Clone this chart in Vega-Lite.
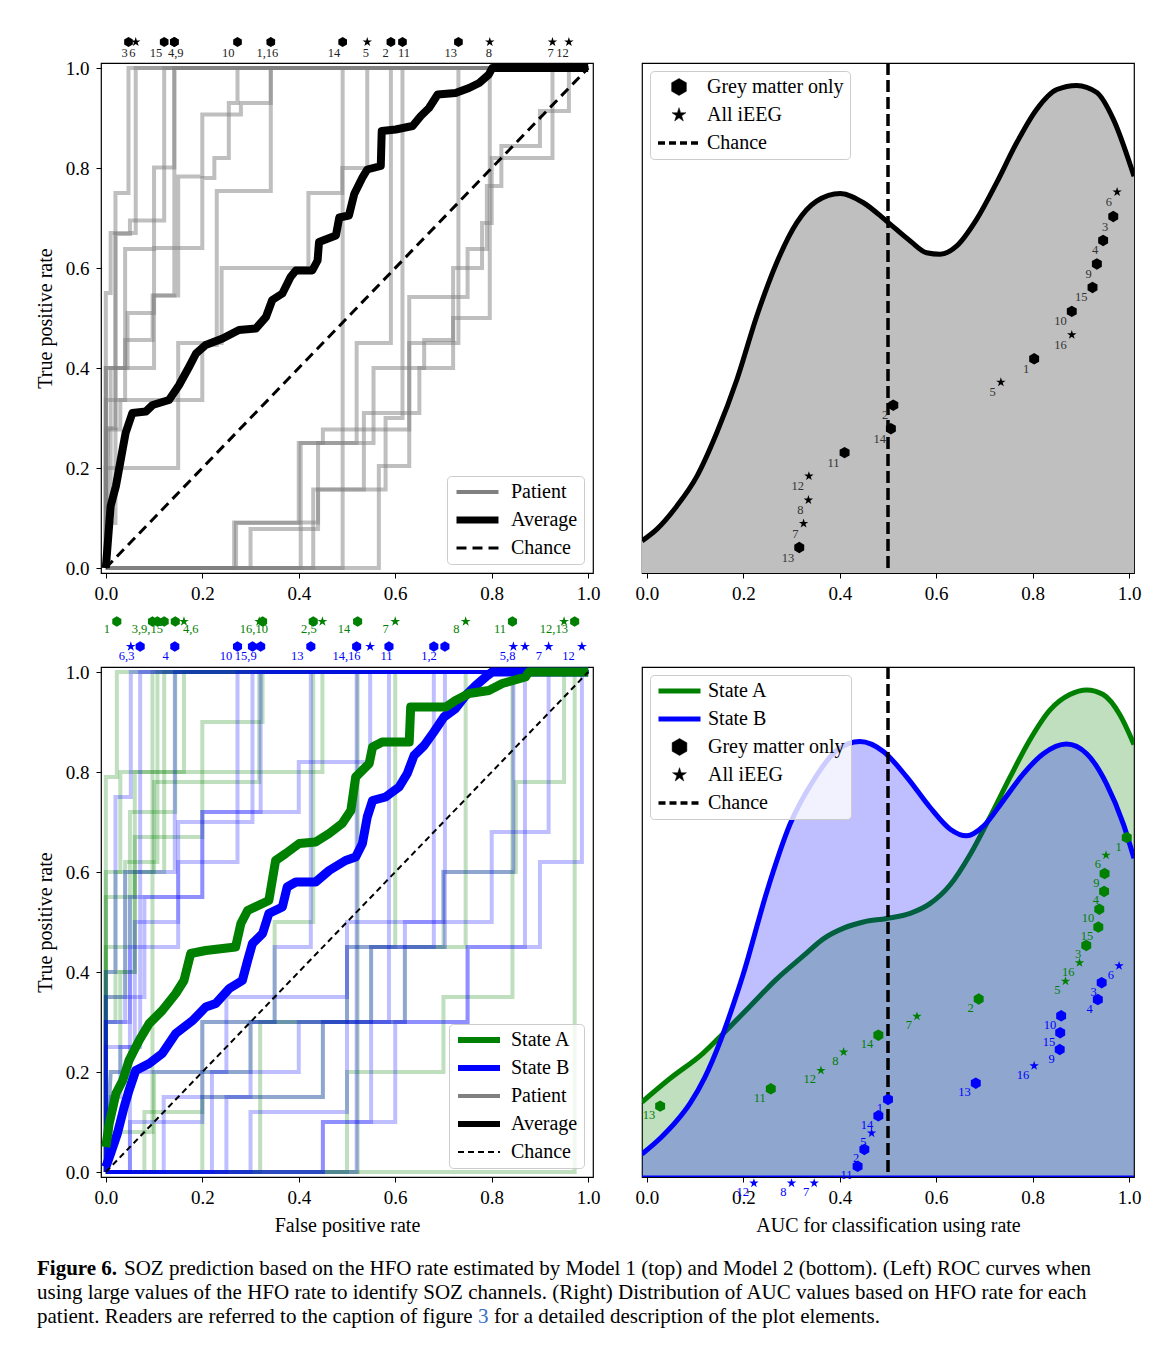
{
"$schema": "https://vega.github.io/schema/vega-lite/v6.json",
"background": "white",
"padding": {"left": 34, "top": 36, "right": 10, "bottom": 2},
"autosize": {"type": "pad"},
"bounds": "flush",
"align": "each",
"columns": 2,
"spacing": {"row": 94, "column": 49},
"resolve": {"scale": {"color": "independent", "shape": "independent", "fill": "independent", "stroke": "independent", "strokeWidth": "independent", "strokeDash": "independent"}, "legend": {"color": "independent", "shape": "independent", "fill": "independent", "stroke": "independent", "strokeWidth": "independent", "strokeDash": "independent"}},
"config": {
  "font": "Liberation Serif",
  "view": {"stroke": "black", "strokeWidth": 1.2},
  "axis": {"domain": false, "grid": false, "ticks": true, "tickColor": "black", "tickSize": 5, "tickWidth": 1, "labelFont": "Liberation Serif", "labelFontSize": 19, "labelColor": "black", "labelPadding": 6, "labelFlush": false, "titleFont": "Liberation Serif", "titleFontSize": 20, "titleFontWeight": "normal", "titleColor": "black", "titlePadding": 8},
  "axisY": {"labelPadding": 7, "titlePadding": 10},
  "legend": {"labelFont": "Liberation Serif", "labelFontSize": 20, "labelColor": "black", "fillColor": "rgba(255,255,255,0.8)", "strokeColor": "#cccccc", "cornerRadius": 4, "padding": 6, "symbolSize": 1764, "symbolOpacity": 1, "clipHeight": 20, "rowPadding": 8, "labelOffset": 8, "labelLimit": 300},
  "text": {"font": "Liberation Serif"}
},
"datasets": {
  "tlPat": [
    {"p":3,"x":0,"y":0},{"p":3,"x":0,"y":0.4},{"p":3,"x":0.02,"y":0.4},{"p":3,"x":0.02,"y":0.75},{"p":3,"x":0.047,"y":0.75},{"p":3,"x":0.047,"y":1},{"p":3,"x":1,"y":1},
    {"p":6,"x":0,"y":0},{"p":6,"x":0,"y":0.55},{"p":6,"x":0.01,"y":0.55},{"p":6,"x":0.01,"y":0.67},{"p":6,"x":0.062,"y":0.67},{"p":6,"x":0.062,"y":1},{"p":6,"x":1,"y":1},
    {"p":15,"x":0,"y":0},{"p":15,"x":0.005,"y":0.28},{"p":15,"x":0.02,"y":0.28},{"p":15,"x":0.02,"y":0.668},{"p":15,"x":0.05,"y":0.668},{"p":15,"x":0.05,"y":0.695},{"p":15,"x":0.121,"y":0.695},{"p":15,"x":0.121,"y":1},{"p":15,"x":1,"y":1},
    {"p":4,"x":0,"y":0},{"p":4,"x":0,"y":0.336},{"p":4,"x":0.04,"y":0.336},{"p":4,"x":0.04,"y":0.638},{"p":4,"x":0.1,"y":0.638},{"p":4,"x":0.1,"y":0.801},{"p":4,"x":0.142,"y":0.801},{"p":4,"x":0.142,"y":1},{"p":4,"x":1,"y":1},
    {"p":9,"x":0,"y":0},{"p":9,"x":0,"y":0.09},{"p":9,"x":0.01,"y":0.09},{"p":9,"x":0.01,"y":0.4},{"p":9,"x":0.04,"y":0.4},{"p":9,"x":0.04,"y":0.456},{"p":9,"x":0.097,"y":0.456},{"p":9,"x":0.097,"y":0.545},{"p":9,"x":0.142,"y":0.545},{"p":9,"x":0.142,"y":1},{"p":9,"x":1,"y":1},
    {"p":10,"x":0,"y":0},{"p":10,"x":0.005,"y":0.09},{"p":10,"x":0.02,"y":0.09},{"p":10,"x":0.02,"y":0.4},{"p":10,"x":0.045,"y":0.4},{"p":10,"x":0.045,"y":0.51},{"p":10,"x":0.1,"y":0.51},{"p":10,"x":0.1,"y":0.64},{"p":10,"x":0.2,"y":0.64},{"p":10,"x":0.2,"y":0.78},{"p":10,"x":0.225,"y":0.78},{"p":10,"x":0.225,"y":0.82},{"p":10,"x":0.255,"y":0.82},{"p":10,"x":0.255,"y":0.93},{"p":10,"x":0.273,"y":0.93},{"p":10,"x":0.273,"y":1},{"p":10,"x":1,"y":1},
    {"p":1,"x":0,"y":0},{"p":1,"x":0,"y":0.277},{"p":1,"x":0.03,"y":0.277},{"p":1,"x":0.03,"y":0.336},{"p":1,"x":0.2,"y":0.336},{"p":1,"x":0.2,"y":0.446},{"p":1,"x":0.23,"y":0.446},{"p":1,"x":0.23,"y":0.754},{"p":1,"x":0.342,"y":0.754},{"p":1,"x":0.342,"y":1},{"p":1,"x":1,"y":1},
    {"p":16,"x":0,"y":0},{"p":16,"x":0,"y":0.4},{"p":16,"x":0.1,"y":0.4},{"p":16,"x":0.1,"y":0.545},{"p":16,"x":0.15,"y":0.545},{"p":16,"x":0.15,"y":0.783},{"p":16,"x":0.2,"y":0.783},{"p":16,"x":0.2,"y":0.907},{"p":16,"x":0.28,"y":0.907},{"p":16,"x":0.28,"y":0.93},{"p":16,"x":0.342,"y":0.93},{"p":16,"x":0.342,"y":1},{"p":16,"x":1,"y":1},
    {"p":14,"x":0,"y":0},{"p":14,"x":0.491,"y":0},{"p":14,"x":0.491,"y":1},{"p":14,"x":1,"y":1},
    {"p":5,"x":0,"y":0},{"p":5,"x":0,"y":0.2},{"p":5,"x":0.15,"y":0.2},{"p":5,"x":0.15,"y":0.45},{"p":5,"x":0.24,"y":0.45},{"p":5,"x":0.24,"y":0.6},{"p":5,"x":0.42,"y":0.6},{"p":5,"x":0.42,"y":0.75},{"p":5,"x":0.49,"y":0.75},{"p":5,"x":0.49,"y":0.8},{"p":5,"x":0.542,"y":0.8},{"p":5,"x":0.542,"y":1},{"p":5,"x":1,"y":1},
    {"p":2,"x":0,"y":0},{"p":2,"x":0.27,"y":0},{"p":2,"x":0.27,"y":0.09},{"p":2,"x":0.4,"y":0.09},{"p":2,"x":0.4,"y":0.25},{"p":2,"x":0.52,"y":0.25},{"p":2,"x":0.52,"y":0.45},{"p":2,"x":0.591,"y":0.45},{"p":2,"x":0.591,"y":1},{"p":2,"x":1,"y":1},
    {"p":11,"x":0,"y":0},{"p":11,"x":0.43,"y":0},{"p":11,"x":0.43,"y":0.157},{"p":11,"x":0.58,"y":0.157},{"p":11,"x":0.58,"y":0.3},{"p":11,"x":0.615,"y":0.3},{"p":11,"x":0.615,"y":1},{"p":11,"x":1,"y":1},
    {"p":13,"x":0,"y":0},{"p":13,"x":0.566,"y":0},{"p":13,"x":0.566,"y":0.204},{"p":13,"x":0.629,"y":0.204},{"p":13,"x":0.629,"y":0.45},{"p":13,"x":0.731,"y":0.45},{"p":13,"x":0.731,"y":1},{"p":13,"x":1,"y":1},
    {"p":8,"x":0,"y":0},{"p":8,"x":0.3,"y":0},{"p":8,"x":0.3,"y":0.078},{"p":8,"x":0.44,"y":0.078},{"p":8,"x":0.44,"y":0.157},{"p":8,"x":0.535,"y":0.157},{"p":8,"x":0.535,"y":0.31},{"p":8,"x":0.65,"y":0.31},{"p":8,"x":0.65,"y":0.4},{"p":8,"x":0.72,"y":0.4},{"p":8,"x":0.72,"y":0.5},{"p":8,"x":0.796,"y":0.5},{"p":8,"x":0.796,"y":1},{"p":8,"x":1,"y":1},
    {"p":7,"x":0,"y":0},{"p":7,"x":0.266,"y":0},{"p":7,"x":0.266,"y":0.091},{"p":7,"x":0.44,"y":0.091},{"p":7,"x":0.44,"y":0.25},{"p":7,"x":0.555,"y":0.25},{"p":7,"x":0.555,"y":0.4},{"p":7,"x":0.66,"y":0.4},{"p":7,"x":0.66,"y":0.456},{"p":7,"x":0.72,"y":0.456},{"p":7,"x":0.72,"y":0.6},{"p":7,"x":0.78,"y":0.6},{"p":7,"x":0.78,"y":0.69},{"p":7,"x":0.8,"y":0.69},{"p":7,"x":0.8,"y":0.82},{"p":7,"x":0.926,"y":0.82},{"p":7,"x":0.926,"y":1},{"p":7,"x":1,"y":1},
    {"p":12,"x":0,"y":0},{"p":12,"x":0.404,"y":0},{"p":12,"x":0.404,"y":0.25},{"p":12,"x":0.45,"y":0.25},{"p":12,"x":0.45,"y":0.277},{"p":12,"x":0.629,"y":0.277},{"p":12,"x":0.629,"y":0.542},{"p":12,"x":0.75,"y":0.542},{"p":12,"x":0.75,"y":0.638},{"p":12,"x":0.79,"y":0.638},{"p":12,"x":0.79,"y":0.764},{"p":12,"x":0.82,"y":0.764},{"p":12,"x":0.82,"y":0.844},{"p":12,"x":0.9,"y":0.844},{"p":12,"x":0.9,"y":0.914},{"p":12,"x":0.96,"y":0.914},{"p":12,"x":0.96,"y":1},{"p":12,"x":1,"y":1}
  ],
  "tlAvg": [
    {"x":0,"y":0},{"x":0.01,"y":0.124},{"x":0.021,"y":0.164},{"x":0.031,"y":0.217},{"x":0.041,"y":0.27},{"x":0.055,"y":0.31},{"x":0.083,"y":0.313},{"x":0.097,"y":0.326},{"x":0.131,"y":0.336},{"x":0.152,"y":0.366},{"x":0.173,"y":0.403},{"x":0.187,"y":0.429},{"x":0.207,"y":0.446},{"x":0.242,"y":0.459},{"x":0.276,"y":0.476},{"x":0.311,"y":0.479},{"x":0.332,"y":0.502},{"x":0.345,"y":0.536},{"x":0.366,"y":0.549},{"x":0.383,"y":0.582},{"x":0.394,"y":0.595},{"x":0.428,"y":0.595},{"x":0.439,"y":0.615},{"x":0.442,"y":0.652},{"x":0.477,"y":0.665},{"x":0.484,"y":0.701},{"x":0.504,"y":0.705},{"x":0.515,"y":0.748},{"x":0.532,"y":0.781},{"x":0.542,"y":0.797},{"x":0.57,"y":0.804},{"x":0.572,"y":0.874},{"x":0.601,"y":0.877},{"x":0.636,"y":0.884},{"x":0.653,"y":0.904},{"x":0.67,"y":0.92},{"x":0.688,"y":0.947},{"x":0.725,"y":0.95},{"x":0.753,"y":0.96},{"x":0.774,"y":0.97},{"x":0.794,"y":0.987},{"x":0.801,"y":1},{"x":1,"y":1}
  ],
  "diag": [{"x":0,"y":0},{"x":1,"y":1}],
  "tlMark": [
    {"x":0.062,"y":1.052,"type":"All iEEG"},{"x":0.342,"y":1.052,"type":"All iEEG"},{"x":0.542,"y":1.052,"type":"All iEEG"},{"x":0.796,"y":1.052,"type":"All iEEG"},{"x":0.926,"y":1.052,"type":"All iEEG"},{"x":0.96,"y":1.052,"type":"All iEEG"},
    {"x":0.047,"y":1.052,"type":"Grey matter only"},{"x":0.121,"y":1.052,"type":"Grey matter only"},{"x":0.142,"y":1.052,"type":"Grey matter only"},{"x":0.142,"y":1.052,"type":"Grey matter only"},{"x":0.273,"y":1.052,"type":"Grey matter only"},{"x":0.342,"y":1.052,"type":"Grey matter only"},{"x":0.491,"y":1.052,"type":"Grey matter only"},{"x":0.591,"y":1.052,"type":"Grey matter only"},{"x":0.615,"y":1.052,"type":"Grey matter only"},{"x":0.731,"y":1.052,"type":"Grey matter only"}
  ],
  "tlLab": [
    {"t":"3","x":0.039,"y":1.031},{"t":"6","x":0.055,"y":1.031},{"t":"15","x":0.104,"y":1.031},{"t":"4,9","x":0.145,"y":1.031},{"t":"10","x":0.254,"y":1.031},{"t":"1,16","x":0.335,"y":1.031},{"t":"14","x":0.473,"y":1.031},{"t":"5","x":0.539,"y":1.031},{"t":"2","x":0.58,"y":1.031},{"t":"11","x":0.618,"y":1.031},{"t":"13","x":0.715,"y":1.031},{"t":"8","x":0.794,"y":1.031},{"t":"7","x":0.922,"y":1.031},{"t":"12","x":0.947,"y":1.031}
  ],
  "trKde": [
    {"x":-0.01,"y":0.063},{"x":0.021,"y":0.086},{"x":0.062,"y":0.131},{"x":0.104,"y":0.19},{"x":0.145,"y":0.275},{"x":0.187,"y":0.38},{"x":0.228,"y":0.504},{"x":0.269,"y":0.608},{"x":0.311,"y":0.687},{"x":0.352,"y":0.729},{"x":0.401,"y":0.744},{"x":0.449,"y":0.726},{"x":0.497,"y":0.69},{"x":0.546,"y":0.651},{"x":0.58,"y":0.628},{"x":0.608,"y":0.625},{"x":0.642,"y":0.641},{"x":0.684,"y":0.694},{"x":0.725,"y":0.765},{"x":0.767,"y":0.844},{"x":0.808,"y":0.909},{"x":0.85,"y":0.948},{"x":0.891,"y":0.956},{"x":0.933,"y":0.942},{"x":0.967,"y":0.89},{"x":1.01,"y":0.778}
  ],
  "trPts": [
    {"p":"6","x":0.975,"y":0.747,"type":"All iEEG"},{"p":"3","x":0.967,"y":0.699,"type":"Grey matter only"},{"p":"4","x":0.946,"y":0.652,"type":"Grey matter only"},{"p":"9","x":0.933,"y":0.606,"type":"Grey matter only"},{"p":"15","x":0.924,"y":0.56,"type":"Grey matter only"},{"p":"10","x":0.881,"y":0.513,"type":"Grey matter only"},{"p":"16","x":0.881,"y":0.467,"type":"All iEEG"},{"p":"1","x":0.803,"y":0.42,"type":"Grey matter only"},{"p":"5","x":0.734,"y":0.374,"type":"All iEEG"},{"p":"2","x":0.511,"y":0.329,"type":"Grey matter only"},{"p":"14","x":0.506,"y":0.283,"type":"Grey matter only"},{"p":"11","x":0.41,"y":0.236,"type":"Grey matter only"},{"p":"12","x":0.336,"y":0.19,"type":"All iEEG"},{"p":"8","x":0.335,"y":0.143,"type":"All iEEG"},{"p":"7","x":0.325,"y":0.097,"type":"All iEEG"},{"p":"13","x":0.316,"y":0.05,"type":"Grey matter only"}
  ],
  "trLeg": [{"cat":"Grey matter only","x":0.5,"y":0.5},{"cat":"All iEEG","x":0.5,"y":0.5},{"cat":"Chance","x":0.5,"y":0.5}],
  "brLeg": [{"cat":"State A","x":0.5,"y":0.5},{"cat":"State B","x":0.5,"y":0.5},{"cat":"Grey matter only","x":0.5,"y":0.5},{"cat":"All iEEG","x":0.5,"y":0.5},{"cat":"Chance","x":0.5,"y":0.5}],
  "blPat": [
    {"p":1,"s":"State A","x":0,"y":0},{"p":1,"s":"State A","x":0,"y":0.79},{"p":1,"s":"State A","x":0.0228,"y":0.79},{"p":1,"s":"State A","x":0.0228,"y":1},{"p":1,"s":"State A","x":1,"y":1},
    {"p":3,"s":"State A","x":0,"y":0},{"p":3,"s":"State A","x":0,"y":0.08},{"p":3,"s":"State A","x":0.0967,"y":0.08},{"p":3,"s":"State A","x":0.0967,"y":1},{"p":3,"s":"State A","x":1,"y":1},
    {"p":9,"s":"State A","x":0,"y":0},{"p":9,"s":"State A","x":0,"y":0.35},{"p":9,"s":"State A","x":0.04,"y":0.35},{"p":9,"s":"State A","x":0.04,"y":0.62},{"p":9,"s":"State A","x":0.107,"y":0.62},{"p":9,"s":"State A","x":0.107,"y":1},{"p":9,"s":"State A","x":1,"y":1},
    {"p":15,"s":"State A","x":0,"y":0},{"p":15,"s":"State A","x":0.01,"y":0.2},{"p":15,"s":"State A","x":0.03,"y":0.2},{"p":15,"s":"State A","x":0.03,"y":0.4},{"p":15,"s":"State A","x":0.06,"y":0.4},{"p":15,"s":"State A","x":0.06,"y":0.6},{"p":15,"s":"State A","x":0.121,"y":0.6},{"p":15,"s":"State A","x":0.121,"y":1},{"p":15,"s":"State A","x":1,"y":1},
    {"p":4,"s":"State A","x":0,"y":0},{"p":4,"s":"State A","x":0,"y":0.45},{"p":4,"s":"State A","x":0.05,"y":0.45},{"p":4,"s":"State A","x":0.05,"y":0.72},{"p":4,"s":"State A","x":0.144,"y":0.72},{"p":4,"s":"State A","x":0.144,"y":1},{"p":4,"s":"State A","x":1,"y":1},
    {"p":6,"s":"State A","x":0,"y":0},{"p":6,"s":"State A","x":0,"y":0.55},{"p":6,"s":"State A","x":0.06,"y":0.55},{"p":6,"s":"State A","x":0.06,"y":0.8},{"p":6,"s":"State A","x":0.162,"y":0.8},{"p":6,"s":"State A","x":0.162,"y":1},{"p":6,"s":"State A","x":1,"y":1},
    {"p":16,"s":"State A","x":0,"y":0},{"p":16,"s":"State A","x":0,"y":0.3},{"p":16,"s":"State A","x":0.02,"y":0.3},{"p":16,"s":"State A","x":0.02,"y":0.6},{"p":16,"s":"State A","x":0.1,"y":0.6},{"p":16,"s":"State A","x":0.1,"y":0.78},{"p":16,"s":"State A","x":0.318,"y":0.78},{"p":16,"s":"State A","x":0.318,"y":1},{"p":16,"s":"State A","x":1,"y":1},
    {"p":10,"s":"State A","x":0,"y":0},{"p":10,"s":"State A","x":0,"y":0.6},{"p":10,"s":"State A","x":0.03,"y":0.6},{"p":10,"s":"State A","x":0.03,"y":0.8},{"p":10,"s":"State A","x":0.2,"y":0.8},{"p":10,"s":"State A","x":0.2,"y":0.9},{"p":10,"s":"State A","x":0.325,"y":0.9},{"p":10,"s":"State A","x":0.325,"y":1},{"p":10,"s":"State A","x":1,"y":1},
    {"p":2,"s":"State A","x":0,"y":0},{"p":2,"s":"State A","x":0.08,"y":0},{"p":2,"s":"State A","x":0.08,"y":0.12},{"p":2,"s":"State A","x":0.2,"y":0.12},{"p":2,"s":"State A","x":0.2,"y":0.3},{"p":2,"s":"State A","x":0.35,"y":0.3},{"p":2,"s":"State A","x":0.35,"y":0.5},{"p":2,"s":"State A","x":0.43,"y":0.5},{"p":2,"s":"State A","x":0.43,"y":1},{"p":2,"s":"State A","x":1,"y":1},
    {"p":5,"s":"State A","x":0,"y":0},{"p":5,"s":"State A","x":0,"y":0.4},{"p":5,"s":"State A","x":0.06,"y":0.4},{"p":5,"s":"State A","x":0.06,"y":0.67},{"p":5,"s":"State A","x":0.2,"y":0.67},{"p":5,"s":"State A","x":0.2,"y":0.8},{"p":5,"s":"State A","x":0.449,"y":0.8},{"p":5,"s":"State A","x":0.449,"y":1},{"p":5,"s":"State A","x":1,"y":1},
    {"p":14,"s":"State A","x":0,"y":0},{"p":14,"s":"State A","x":0.522,"y":0},{"p":14,"s":"State A","x":0.522,"y":1},{"p":14,"s":"State A","x":1,"y":1},
    {"p":7,"s":"State A","x":0,"y":0},{"p":7,"s":"State A","x":0.1,"y":0},{"p":7,"s":"State A","x":0.1,"y":0.2},{"p":7,"s":"State A","x":0.3,"y":0.2},{"p":7,"s":"State A","x":0.3,"y":0.3},{"p":7,"s":"State A","x":0.5,"y":0.3},{"p":7,"s":"State A","x":0.5,"y":0.45},{"p":7,"s":"State A","x":0.6,"y":0.45},{"p":7,"s":"State A","x":0.6,"y":1},{"p":7,"s":"State A","x":1,"y":1},
    {"p":8,"s":"State A","x":0,"y":0},{"p":8,"s":"State A","x":0.2,"y":0},{"p":8,"s":"State A","x":0.2,"y":0.15},{"p":8,"s":"State A","x":0.45,"y":0.15},{"p":8,"s":"State A","x":0.45,"y":0.3},{"p":8,"s":"State A","x":0.62,"y":0.3},{"p":8,"s":"State A","x":0.62,"y":0.45},{"p":8,"s":"State A","x":0.746,"y":0.45},{"p":8,"s":"State A","x":0.746,"y":1},{"p":8,"s":"State A","x":1,"y":1},
    {"p":11,"s":"State A","x":0,"y":0},{"p":11,"s":"State A","x":0.5,"y":0},{"p":11,"s":"State A","x":0.5,"y":0.2},{"p":11,"s":"State A","x":0.7,"y":0.2},{"p":11,"s":"State A","x":0.7,"y":0.35},{"p":11,"s":"State A","x":0.843,"y":0.35},{"p":11,"s":"State A","x":0.843,"y":1},{"p":11,"s":"State A","x":1,"y":1},
    {"p":12,"s":"State A","x":0,"y":0},{"p":12,"s":"State A","x":0.32,"y":0},{"p":12,"s":"State A","x":0.32,"y":0.3},{"p":12,"s":"State A","x":0.55,"y":0.3},{"p":12,"s":"State A","x":0.55,"y":0.45},{"p":12,"s":"State A","x":0.7,"y":0.45},{"p":12,"s":"State A","x":0.7,"y":0.6},{"p":12,"s":"State A","x":0.85,"y":0.6},{"p":12,"s":"State A","x":0.85,"y":0.78},{"p":12,"s":"State A","x":0.95,"y":0.78},{"p":12,"s":"State A","x":0.95,"y":1},{"p":12,"s":"State A","x":1,"y":1},
    {"p":13,"s":"State A","x":0,"y":0},{"p":13,"s":"State A","x":0.972,"y":0},{"p":13,"s":"State A","x":0.972,"y":1},{"p":13,"s":"State A","x":1,"y":1},
    {"p":6,"s":"State B","x":0,"y":0},{"p":6,"s":"State B","x":0,"y":0.4},{"p":6,"s":"State B","x":0.02,"y":0.4},{"p":6,"s":"State B","x":0.02,"y":0.75},{"p":6,"s":"State B","x":0.0518,"y":0.75},{"p":6,"s":"State B","x":0.0518,"y":1},{"p":6,"s":"State B","x":1,"y":1},
    {"p":3,"s":"State B","x":0,"y":0},{"p":3,"s":"State B","x":0.01,"y":0.15},{"p":3,"s":"State B","x":0.03,"y":0.15},{"p":3,"s":"State B","x":0.03,"y":0.25},{"p":3,"s":"State B","x":0.0712,"y":0.25},{"p":3,"s":"State B","x":0.0712,"y":1},{"p":3,"s":"State B","x":1,"y":1},
    {"p":4,"s":"State B","x":0,"y":0},{"p":4,"s":"State B","x":0,"y":0.3},{"p":4,"s":"State B","x":0.04,"y":0.3},{"p":4,"s":"State B","x":0.04,"y":0.6},{"p":4,"s":"State B","x":0.143,"y":0.6},{"p":4,"s":"State B","x":0.143,"y":1},{"p":4,"s":"State B","x":1,"y":1},
    {"p":10,"s":"State B","x":0,"y":0},{"p":10,"s":"State B","x":0.01,"y":0.2},{"p":10,"s":"State B","x":0.05,"y":0.2},{"p":10,"s":"State B","x":0.05,"y":0.45},{"p":10,"s":"State B","x":0.15,"y":0.45},{"p":10,"s":"State B","x":0.15,"y":0.62},{"p":10,"s":"State B","x":0.273,"y":0.62},{"p":10,"s":"State B","x":0.273,"y":1},{"p":10,"s":"State B","x":1,"y":1},
    {"p":15,"s":"State B","x":0,"y":0},{"p":15,"s":"State B","x":0,"y":0.25},{"p":15,"s":"State B","x":0.06,"y":0.25},{"p":15,"s":"State B","x":0.06,"y":0.5},{"p":15,"s":"State B","x":0.15,"y":0.5},{"p":15,"s":"State B","x":0.15,"y":0.7},{"p":15,"s":"State B","x":0.304,"y":0.7},{"p":15,"s":"State B","x":0.304,"y":1},{"p":15,"s":"State B","x":1,"y":1},
    {"p":9,"s":"State B","x":0,"y":0},{"p":9,"s":"State B","x":0,"y":0.35},{"p":9,"s":"State B","x":0.08,"y":0.35},{"p":9,"s":"State B","x":0.08,"y":0.55},{"p":9,"s":"State B","x":0.2,"y":0.55},{"p":9,"s":"State B","x":0.2,"y":0.72},{"p":9,"s":"State B","x":0.321,"y":0.72},{"p":9,"s":"State B","x":0.321,"y":1},{"p":9,"s":"State B","x":1,"y":1},
    {"p":13,"s":"State B","x":0,"y":0},{"p":13,"s":"State B","x":0.05,"y":0},{"p":13,"s":"State B","x":0.05,"y":0.1},{"p":13,"s":"State B","x":0.2,"y":0.1},{"p":13,"s":"State B","x":0.2,"y":0.3},{"p":13,"s":"State B","x":0.35,"y":0.3},{"p":13,"s":"State B","x":0.35,"y":0.45},{"p":13,"s":"State B","x":0.425,"y":0.45},{"p":13,"s":"State B","x":0.425,"y":1},{"p":13,"s":"State B","x":1,"y":1},
    {"p":14,"s":"State B","x":0,"y":0},{"p":14,"s":"State B","x":0.52,"y":0},{"p":14,"s":"State B","x":0.52,"y":1},{"p":14,"s":"State B","x":1,"y":1},
    {"p":16,"s":"State B","x":0,"y":0},{"p":16,"s":"State B","x":0,"y":0.3},{"p":16,"s":"State B","x":0.05,"y":0.3},{"p":16,"s":"State B","x":0.05,"y":0.55},{"p":16,"s":"State B","x":0.2,"y":0.55},{"p":16,"s":"State B","x":0.2,"y":0.72},{"p":16,"s":"State B","x":0.4,"y":0.72},{"p":16,"s":"State B","x":0.4,"y":0.82},{"p":16,"s":"State B","x":0.548,"y":0.82},{"p":16,"s":"State B","x":0.548,"y":1},{"p":16,"s":"State B","x":1,"y":1},
    {"p":11,"s":"State B","x":0,"y":0},{"p":11,"s":"State B","x":0.45,"y":0},{"p":11,"s":"State B","x":0.45,"y":0.1},{"p":11,"s":"State B","x":0.55,"y":0.1},{"p":11,"s":"State B","x":0.55,"y":0.3},{"p":11,"s":"State B","x":0.587,"y":0.3},{"p":11,"s":"State B","x":0.587,"y":1},{"p":11,"s":"State B","x":1,"y":1},
    {"p":1,"s":"State B","x":0,"y":0},{"p":1,"s":"State B","x":0.12,"y":0},{"p":1,"s":"State B","x":0.12,"y":0.15},{"p":1,"s":"State B","x":0.3,"y":0.15},{"p":1,"s":"State B","x":0.3,"y":0.3},{"p":1,"s":"State B","x":0.5,"y":0.3},{"p":1,"s":"State B","x":0.5,"y":0.45},{"p":1,"s":"State B","x":0.68,"y":0.45},{"p":1,"s":"State B","x":0.68,"y":1},{"p":1,"s":"State B","x":1,"y":1},
    {"p":2,"s":"State B","x":0,"y":0},{"p":2,"s":"State B","x":0.22,"y":0},{"p":2,"s":"State B","x":0.22,"y":0.2},{"p":2,"s":"State B","x":0.4,"y":0.2},{"p":2,"s":"State B","x":0.4,"y":0.3},{"p":2,"s":"State B","x":0.55,"y":0.3},{"p":2,"s":"State B","x":0.55,"y":0.45},{"p":2,"s":"State B","x":0.703,"y":0.45},{"p":2,"s":"State B","x":0.703,"y":1},{"p":2,"s":"State B","x":1,"y":1},
    {"p":5,"s":"State B","x":0,"y":0},{"p":5,"s":"State B","x":0.05,"y":0},{"p":5,"s":"State B","x":0.05,"y":0.2},{"p":5,"s":"State B","x":0.25,"y":0.2},{"p":5,"s":"State B","x":0.25,"y":0.35},{"p":5,"s":"State B","x":0.5,"y":0.35},{"p":5,"s":"State B","x":0.5,"y":0.5},{"p":5,"s":"State B","x":0.7,"y":0.5},{"p":5,"s":"State B","x":0.7,"y":0.6},{"p":5,"s":"State B","x":0.845,"y":0.6},{"p":5,"s":"State B","x":0.845,"y":1},{"p":5,"s":"State B","x":1,"y":1},
    {"p":8,"s":"State B","x":0,"y":0},{"p":8,"s":"State B","x":0.3,"y":0},{"p":8,"s":"State B","x":0.3,"y":0.12},{"p":8,"s":"State B","x":0.5,"y":0.12},{"p":8,"s":"State B","x":0.5,"y":0.3},{"p":8,"s":"State B","x":0.75,"y":0.3},{"p":8,"s":"State B","x":0.75,"y":0.45},{"p":8,"s":"State B","x":0.869,"y":0.45},{"p":8,"s":"State B","x":0.869,"y":1},{"p":8,"s":"State B","x":1,"y":1},
    {"p":7,"s":"State B","x":0,"y":0},{"p":7,"s":"State B","x":0.25,"y":0},{"p":7,"s":"State B","x":0.25,"y":0.15},{"p":7,"s":"State B","x":0.45,"y":0.15},{"p":7,"s":"State B","x":0.45,"y":0.3},{"p":7,"s":"State B","x":0.62,"y":0.3},{"p":7,"s":"State B","x":0.62,"y":0.5},{"p":7,"s":"State B","x":0.8,"y":0.5},{"p":7,"s":"State B","x":0.8,"y":0.68},{"p":7,"s":"State B","x":0.918,"y":0.68},{"p":7,"s":"State B","x":0.918,"y":1},{"p":7,"s":"State B","x":1,"y":1},
    {"p":12,"s":"State B","x":0,"y":0},{"p":12,"s":"State B","x":0.45,"y":0},{"p":12,"s":"State B","x":0.45,"y":0.1},{"p":12,"s":"State B","x":0.6,"y":0.1},{"p":12,"s":"State B","x":0.6,"y":0.3},{"p":12,"s":"State B","x":0.75,"y":0.3},{"p":12,"s":"State B","x":0.75,"y":0.45},{"p":12,"s":"State B","x":0.9,"y":0.45},{"p":12,"s":"State B","x":0.9,"y":0.62},{"p":12,"s":"State B","x":0.987,"y":0.62},{"p":12,"s":"State B","x":0.987,"y":1},{"p":12,"s":"State B","x":1,"y":1}
  ],
  "blAvgA": [
    {"x":0,"y":0.05},{"x":0.007,"y":0.097},{"x":0.021,"y":0.157},{"x":0.035,"y":0.183},{"x":0.048,"y":0.223},{"x":0.069,"y":0.263},{"x":0.09,"y":0.297},{"x":0.117,"y":0.323},{"x":0.145,"y":0.357},{"x":0.162,"y":0.383},{"x":0.176,"y":0.437},{"x":0.207,"y":0.443},{"x":0.269,"y":0.45},{"x":0.28,"y":0.497},{"x":0.294,"y":0.523},{"x":0.338,"y":0.543},{"x":0.352,"y":0.623},{"x":0.373,"y":0.637},{"x":0.401,"y":0.657},{"x":0.435,"y":0.66},{"x":0.463,"y":0.677},{"x":0.49,"y":0.697},{"x":0.508,"y":0.723},{"x":0.518,"y":0.79},{"x":0.546,"y":0.817},{"x":0.553,"y":0.85},{"x":0.573,"y":0.86},{"x":0.629,"y":0.86},{"x":0.632,"y":0.93},{"x":0.705,"y":0.93},{"x":0.725,"y":0.943},{"x":0.753,"y":0.957},{"x":0.794,"y":0.963},{"x":0.822,"y":0.977},{"x":0.87,"y":0.99},{"x":0.877,"y":1},{"x":1,"y":1}
  ],
  "blAvgB": [
    {"x":0,"y":0.01},{"x":0.01,"y":0.037},{"x":0.024,"y":0.077},{"x":0.038,"y":0.13},{"x":0.048,"y":0.163},{"x":0.062,"y":0.203},{"x":0.09,"y":0.217},{"x":0.117,"y":0.237},{"x":0.145,"y":0.277},{"x":0.18,"y":0.303},{"x":0.207,"y":0.33},{"x":0.228,"y":0.337},{"x":0.256,"y":0.367},{"x":0.283,"y":0.383},{"x":0.294,"y":0.423},{"x":0.304,"y":0.457},{"x":0.325,"y":0.477},{"x":0.338,"y":0.517},{"x":0.366,"y":0.53},{"x":0.376,"y":0.57},{"x":0.394,"y":0.58},{"x":0.435,"y":0.58},{"x":0.463,"y":0.603},{"x":0.497,"y":0.623},{"x":0.518,"y":0.63},{"x":0.532,"y":0.657},{"x":0.542,"y":0.71},{"x":0.553,"y":0.743},{"x":0.58,"y":0.75},{"x":0.608,"y":0.77},{"x":0.625,"y":0.797},{"x":0.639,"y":0.833},{"x":0.66,"y":0.853},{"x":0.68,"y":0.88},{"x":0.701,"y":0.91},{"x":0.725,"y":0.927},{"x":0.746,"y":0.953},{"x":0.767,"y":0.973},{"x":0.791,"y":0.993},{"x":0.801,"y":1},{"x":1,"y":1}
  ],
  "blMark": [
    {"s":"State A","type":"Grey matter only","x":0.0228,"y":1.101},{"s":"State A","type":"Grey matter only","x":0.0967,"y":1.101},{"s":"State A","type":"Grey matter only","x":0.107,"y":1.101},{"s":"State A","type":"Grey matter only","x":0.121,"y":1.101},{"s":"State A","type":"Grey matter only","x":0.144,"y":1.101},{"s":"State A","type":"All iEEG","x":0.162,"y":1.101},{"s":"State A","type":"All iEEG","x":0.318,"y":1.101},{"s":"State A","type":"Grey matter only","x":0.325,"y":1.101},{"s":"State A","type":"Grey matter only","x":0.43,"y":1.101},{"s":"State A","type":"All iEEG","x":0.449,"y":1.101},{"s":"State A","type":"Grey matter only","x":0.522,"y":1.101},{"s":"State A","type":"All iEEG","x":0.6,"y":1.101},{"s":"State A","type":"All iEEG","x":0.746,"y":1.101},{"s":"State A","type":"Grey matter only","x":0.843,"y":1.101},{"s":"State A","type":"All iEEG","x":0.95,"y":1.101},{"s":"State A","type":"Grey matter only","x":0.972,"y":1.101},
    {"s":"State B","type":"All iEEG","x":0.0518,"y":1.051},{"s":"State B","type":"Grey matter only","x":0.0712,"y":1.051},{"s":"State B","type":"Grey matter only","x":0.143,"y":1.051},{"s":"State B","type":"Grey matter only","x":0.273,"y":1.051},{"s":"State B","type":"Grey matter only","x":0.304,"y":1.051},{"s":"State B","type":"Grey matter only","x":0.321,"y":1.051},{"s":"State B","type":"Grey matter only","x":0.425,"y":1.051},{"s":"State B","type":"Grey matter only","x":0.52,"y":1.051},{"s":"State B","type":"All iEEG","x":0.548,"y":1.051},{"s":"State B","type":"Grey matter only","x":0.587,"y":1.051},{"s":"State B","type":"Grey matter only","x":0.68,"y":1.051},{"s":"State B","type":"Grey matter only","x":0.703,"y":1.051},{"s":"State B","type":"All iEEG","x":0.845,"y":1.051},{"s":"State B","type":"All iEEG","x":0.869,"y":1.051},{"s":"State B","type":"All iEEG","x":0.918,"y":1.051},{"s":"State B","type":"All iEEG","x":0.987,"y":1.051}
  ],
  "blLab": [
    {"s":"State A","t":"1","x":0.002,"y":1.086},{"s":"State A","t":"3,9,15","x":0.086,"y":1.086},{"s":"State A","t":"4,6","x":0.176,"y":1.086},{"s":"State A","t":"16,10","x":0.307,"y":1.086},{"s":"State A","t":"2,5","x":0.421,"y":1.086},{"s":"State A","t":"14","x":0.494,"y":1.086},{"s":"State A","t":"7","x":0.58,"y":1.086},{"s":"State A","t":"8","x":0.727,"y":1.086},{"s":"State A","t":"11","x":0.817,"y":1.086},{"s":"State A","t":"12,13","x":0.929,"y":1.086},
    {"s":"State B","t":"6,3","x":0.043,"y":1.033},{"s":"State B","t":"4","x":0.124,"y":1.033},{"s":"State B","t":"10","x":0.249,"y":1.033},{"s":"State B","t":"15,9","x":0.29,"y":1.033},{"s":"State B","t":"13","x":0.397,"y":1.033},{"s":"State B","t":"14,16","x":0.499,"y":1.033},{"s":"State B","t":"11","x":0.582,"y":1.033},{"s":"State B","t":"1,2","x":0.67,"y":1.033},{"s":"State B","t":"5,8","x":0.833,"y":1.033},{"s":"State B","t":"7","x":0.898,"y":1.033},{"s":"State B","t":"12","x":0.959,"y":1.033}
  ],
  "brA": [
    {"x":-0.01,"y":0.147},{"x":0.048,"y":0.193},{"x":0.117,"y":0.243},{"x":0.159,"y":0.282},{"x":0.214,"y":0.335},{"x":0.269,"y":0.388},{"x":0.325,"y":0.434},{"x":0.366,"y":0.467},{"x":0.408,"y":0.488},{"x":0.449,"y":0.5},{"x":0.497,"y":0.507},{"x":0.546,"y":0.517},{"x":0.587,"y":0.536},{"x":0.629,"y":0.573},{"x":0.67,"y":0.632},{"x":0.711,"y":0.705},{"x":0.753,"y":0.784},{"x":0.794,"y":0.857},{"x":0.836,"y":0.916},{"x":0.877,"y":0.946},{"x":0.912,"y":0.955},{"x":0.946,"y":0.946},{"x":0.981,"y":0.906},{"x":1.01,"y":0.848}
  ],
  "brB": [
    {"x":-0.01,"y":0.045},{"x":0.03,"y":0.078},{"x":0.06,"y":0.108},{"x":0.09,"y":0.145},{"x":0.12,"y":0.195},{"x":0.153,"y":0.268},{"x":0.18,"y":0.34},{"x":0.2,"y":0.398},{"x":0.249,"y":0.56},{"x":0.297,"y":0.692},{"x":0.345,"y":0.777},{"x":0.394,"y":0.837},{"x":0.442,"y":0.854},{"x":0.491,"y":0.834},{"x":0.539,"y":0.784},{"x":0.587,"y":0.725},{"x":0.629,"y":0.682},{"x":0.663,"y":0.669},{"x":0.698,"y":0.688},{"x":0.739,"y":0.738},{"x":0.781,"y":0.791},{"x":0.822,"y":0.83},{"x":0.87,"y":0.849},{"x":0.912,"y":0.83},{"x":0.953,"y":0.771},{"x":0.988,"y":0.692},{"x":1.01,"y":0.625}
  ],
  "base": [{"x":-0.01,"y":0},{"x":1.01,"y":0}],
  "half": [{"x":0.5}],
  "brPts": [
    {"s":"State A","p":"1","x":0.995,"y":0.6655,"type":"Grey matter only"},{"s":"State A","p":"6","x":0.952,"y":0.631,"type":"All iEEG"},{"s":"State A","p":"9","x":0.949,"y":0.595,"type":"Grey matter only"},{"s":"State A","p":"4","x":0.948,"y":0.56,"type":"Grey matter only"},{"s":"State A","p":"10","x":0.938,"y":0.525,"type":"Grey matter only"},{"s":"State A","p":"15","x":0.936,"y":0.49,"type":"Grey matter only"},{"s":"State A","p":"3","x":0.911,"y":0.454,"type":"Grey matter only"},{"s":"State A","p":"16","x":0.897,"y":0.42,"type":"All iEEG"},{"s":"State A","p":"5","x":0.868,"y":0.384,"type":"All iEEG"},{"s":"State A","p":"2","x":0.688,"y":0.349,"type":"Grey matter only"},{"s":"State A","p":"7","x":0.56,"y":0.315,"type":"All iEEG"},{"s":"State A","p":"14","x":0.48,"y":0.278,"type":"Grey matter only"},{"s":"State A","p":"8","x":0.408,"y":0.245,"type":"All iEEG"},{"s":"State A","p":"12","x":0.361,"y":0.209,"type":"All iEEG"},{"s":"State A","p":"11","x":0.257,"y":0.173,"type":"Grey matter only"},{"s":"State A","p":"13","x":0.0276,"y":0.139,"type":"Grey matter only"},
    {"s":"State B","p":"6","x":0.979,"y":0.414,"type":"All iEEG"},{"s":"State B","p":"3","x":0.943,"y":0.381,"type":"Grey matter only"},{"s":"State B","p":"4","x":0.935,"y":0.348,"type":"Grey matter only"},{"s":"State B","p":"10","x":0.859,"y":0.316,"type":"Grey matter only"},{"s":"State B","p":"15","x":0.857,"y":0.283,"type":"Grey matter only"},{"s":"State B","p":"9","x":0.856,"y":0.25,"type":"Grey matter only"},{"s":"State B","p":"16","x":0.803,"y":0.218,"type":"All iEEG"},{"s":"State B","p":"13","x":0.682,"y":0.184,"type":"Grey matter only"},{"s":"State B","p":"1","x":0.5,"y":0.152,"type":"Grey matter only"},{"s":"State B","p":"14","x":0.48,"y":0.12,"type":"Grey matter only"},{"s":"State B","p":"5","x":0.466,"y":0.086,"type":"All iEEG"},{"s":"State B","p":"2","x":0.451,"y":0.054,"type":"Grey matter only"},{"s":"State B","p":"11","x":0.437,"y":0.021,"type":"Grey matter only"},{"s":"State B","p":"12","x":0.222,"y":-0.012,"type":"All iEEG"},{"s":"State B","p":"8","x":0.3,"y":-0.012,"type":"All iEEG"},{"s":"State B","p":"7","x":0.347,"y":-0.012,"type":"All iEEG"}
  ],
  "cap": [
    {"line":1,"pos":0,"part":"bold","t":"Figure 6."},
    {"line":1,"pos":0,"part":"first","t":"SOZ prediction based on the HFO rate estimated by Model 1 (top) and Model 2 (bottom). (Left) ROC curves when"},
    {"line":2,"pos":0,"part":"plain","t":"using large values of the HFO rate to identify SOZ channels. (Right) Distribution of AUC values based on HFO rate for each"},
    {"line":3,"pos":0,"part":"plain","t":"patient. Readers are referred to the caption of figure"},
    {"line":3,"pos":0,"part":"link","t":"3"},
    {"line":3,"pos":0,"part":"rest","t":"for a detailed description of the plot elements."}
  ]
},
"concat": [
  {
    "width": 492, "height": 510,
    "encoding": {"x": {"field": "x", "type": "quantitative", "scale": {"domain": [-0.01, 1.01], "nice": false, "zero": false}, "axis": {"title": null, "values": [0, 0.2, 0.4, 0.6, 0.8, 1], "format": ".1f"}}},
    "layer": [
      {"data": {"name": "tlPat"}, "mark": {"type": "line", "strokeWidth": 4, "opacity": 0.5, "clip": true},
       "encoding": {"y": {"field": "y", "type": "quantitative", "scale": {"domain": [-0.01, 1.01], "nice": false, "zero": false}, "axis": {"title": "True positive rate", "values": [0, 0.2, 0.4, 0.6, 0.8, 1], "format": ".1f"}},
         "detail": {"field": "p", "type": "nominal"}, "order": {"value": null},
         "color": {"datum": "Patient", "type": "nominal", "scale": {"domain": ["Patient", "Average", "Chance"], "range": ["#808080", "#000000", "#000000"]}, "legend": {"title": null, "orient": "bottom-right", "offset": 9, "symbolType": "stroke", "labelOffset": 9}}}},
      {"data": {"name": "tlAvg"}, "mark": {"type": "line", "strokeWidth": 8, "clip": true, "strokeJoin": "round"},
       "encoding": {"y": {"field": "y", "type": "quantitative", "scale": {"domain": [-0.01, 1.01], "nice": false, "zero": false}}, "order": {"value": null},
         "color": {"datum": "Average", "type": "nominal"}}},
      {"data": {"name": "diag"}, "mark": {"type": "line", "clip": true},
       "encoding": {"y": {"field": "y", "type": "quantitative", "scale": {"domain": [-0.01, 1.01], "nice": false, "zero": false}},
         "color": {"datum": "Chance", "type": "nominal"},
         "strokeWidth": {"datum": "Chance", "type": "nominal", "scale": {"type": "ordinal", "domain": ["Patient", "Average", "Chance"], "range": [4, 7, 3]}, "legend": {"title": null, "orient": "bottom-right", "offset": 9, "symbolType": "stroke", "labelOffset": 9}},
         "strokeDash": {"datum": "Chance", "type": "nominal", "scale": {"domain": ["Patient", "Average", "Chance"], "range": [[1, 0], [1, 0], [10, 6]]}, "legend": {"title": null, "orient": "bottom-right", "offset": 9, "symbolType": "stroke", "labelOffset": 9}}}},
      {"data": {"name": "tlMark"}, "mark": {"type": "point", "filled": true, "size": 100, "opacity": 1, "color": "black"},
       "encoding": {"y": {"field": "y", "type": "quantitative", "scale": {"domain": [-0.01, 1.01], "nice": false, "zero": false}},
         "shape": {"field": "type", "type": "nominal", "scale": {"domain": ["Grey matter only", "All iEEG"], "range": ["M0,-1L0.866,-0.5L0.866,0.5L0,1L-0.866,0.5L-0.866,-0.5Z", "M0,-1L0.2245,-0.309L0.951,-0.309L0.363,0.118L0.588,0.809L0,0.382L-0.588,0.809L-0.363,0.118L-0.951,-0.309L-0.2245,-0.309Z"]}, "legend": null}}},
      {"data": {"name": "tlLab"}, "mark": {"type": "text", "fontSize": 12.5, "color": "#222222"},
       "encoding": {"y": {"field": "y", "type": "quantitative", "scale": {"domain": [-0.01, 1.01], "nice": false, "zero": false}}, "text": {"field": "t"}}}
    ]
  },
  {
    "width": 492, "height": 510,
    "encoding": {"x": {"field": "x", "type": "quantitative", "scale": {"domain": [-0.01, 1.01], "nice": false, "zero": false}, "axis": {"title": null, "values": [0, 0.2, 0.4, 0.6, 0.8, 1], "format": ".1f"}}},
    "layer": [
      {"data": {"name": "trLeg"}, "mark": {"type": "point", "filled": true, "opacity": 0, "size": 1},
       "encoding": {"y": {"field": "y", "type": "quantitative", "scale": {"domain": [0, 1], "nice": false, "zero": false}, "axis": null},
         "shape": {"field": "cat", "type": "nominal", "scale": {"domain": ["Grey matter only", "All iEEG", "Chance"], "range": ["M0,-0.405L0.351,-0.2025L0.351,0.2025L0,0.405L-0.351,0.2025L-0.351,-0.2025Z", "M0,-0.35L0.0786,-0.1082L0.3329,-0.1082L0.1271,0.0413L0.2058,0.2832L0,0.1337L-0.2058,0.2832L-0.1271,0.0413L-0.3329,-0.1082L-0.0786,-0.1082Z", "stroke"]}, "legend": {"title": null, "orient": "top-left", "offset": 8, "labelOffset": 5}},
         "fill": {"field": "cat", "type": "nominal", "scale": {"domain": ["Grey matter only", "All iEEG", "Chance"], "range": ["#000000", "#000000", "transparent"]}, "legend": {"title": null, "orient": "top-left", "offset": 8, "labelOffset": 5}},
         "stroke": {"field": "cat", "type": "nominal", "scale": {"domain": ["Grey matter only", "All iEEG", "Chance"], "range": ["#000000", "#000000", "#000000"]}, "legend": {"title": null, "orient": "top-left", "offset": 8, "labelOffset": 5}},
         "strokeWidth": {"field": "cat", "type": "nominal", "scale": {"type": "ordinal", "domain": ["Grey matter only", "All iEEG", "Chance"], "range": [0.5, 0.5, 3.5]}, "legend": {"title": null, "orient": "top-left", "offset": 8, "labelOffset": 5}},
         "strokeDash": {"field": "cat", "type": "nominal", "scale": {"domain": ["Grey matter only", "All iEEG", "Chance"], "range": [[1, 0], [1, 0], [7, 4]]}, "legend": {"title": null, "orient": "top-left", "offset": 8, "labelOffset": 5}}}},
      {"data": {"name": "trKde"}, "mark": {"type": "area", "color": "#bfbfbf", "interpolate": "monotone", "clip": true},
       "encoding": {"y": {"field": "y", "type": "quantitative", "scale": {"domain": [0, 1], "nice": false, "zero": false}, "axis": null}}},
      {"data": {"name": "trKde"}, "mark": {"type": "line", "color": "black", "strokeWidth": 5, "interpolate": "monotone", "clip": true},
       "encoding": {"y": {"field": "y", "type": "quantitative", "scale": {"domain": [0, 1], "nice": false, "zero": false}, "axis": null}}},
      {"data": {"name": "half"}, "mark": {"type": "rule", "color": "black", "strokeWidth": 3.5, "strokeDash": [12, 5]}, "encoding": {}},
      {"data": {"name": "trPts"}, "mark": {"type": "point", "filled": true, "size": 800, "opacity": 1, "color": "black"},
       "encoding": {"y": {"field": "y", "type": "quantitative", "scale": {"domain": [0, 1], "nice": false, "zero": false}, "axis": null},
         "shape": {"field": "type", "type": "nominal"}}},
      {"data": {"name": "trPts"}, "mark": {"type": "text", "align": "right", "dx": -5, "dy": 10, "fontSize": 12.5, "color": "#333333"},
       "encoding": {"y": {"field": "y", "type": "quantitative", "scale": {"domain": [0, 1], "nice": false, "zero": false}, "axis": null}, "text": {"field": "p"}}}
    ]
  },
  {
    "width": 492, "height": 510,
    "encoding": {"x": {"field": "x", "type": "quantitative", "scale": {"domain": [-0.01, 1.01], "nice": false, "zero": false}, "axis": {"title": "False positive rate", "values": [0, 0.2, 0.4, 0.6, 0.8, 1], "format": ".1f"}}},
    "layer": [
      {"data": {"name": "blPat"}, "mark": {"type": "line", "strokeWidth": 4, "opacity": 0.25, "clip": true},
       "encoding": {"y": {"field": "y", "type": "quantitative", "scale": {"domain": [-0.01, 1.01], "nice": false, "zero": false}, "axis": {"title": "True positive rate", "values": [0, 0.2, 0.4, 0.6, 0.8, 1], "format": ".1f"}},
         "detail": {"field": "p", "type": "nominal"}, "order": {"value": null},
         "color": {"field": "s", "type": "nominal", "scale": {"domain": ["State A", "State B", "Patient", "Average", "Chance"], "range": ["#008000", "#0000ff", "#808080", "#000000", "#000000"]}, "legend": {"title": null, "orient": "bottom-right", "offset": 9, "symbolType": "stroke", "labelOffset": 8}}}},
      {"data": {"name": "blAvgB"}, "mark": {"type": "line", "strokeWidth": 9, "clip": true, "strokeJoin": "round"},
       "encoding": {"y": {"field": "y", "type": "quantitative", "scale": {"domain": [-0.01, 1.01], "nice": false, "zero": false}}, "order": {"value": null},
         "color": {"datum": "State B", "type": "nominal"}}},
      {"data": {"name": "blAvgA"}, "mark": {"type": "line", "strokeWidth": 9, "clip": true, "strokeJoin": "round"},
       "encoding": {"y": {"field": "y", "type": "quantitative", "scale": {"domain": [-0.01, 1.01], "nice": false, "zero": false}}, "order": {"value": null},
         "color": {"datum": "State A", "type": "nominal"}}},
      {"data": {"name": "diag"}, "mark": {"type": "line", "clip": true},
       "encoding": {"y": {"field": "y", "type": "quantitative", "scale": {"domain": [-0.01, 1.01], "nice": false, "zero": false}},
         "color": {"datum": "Chance", "type": "nominal"},
         "strokeWidth": {"datum": "Chance", "type": "nominal", "scale": {"type": "ordinal", "domain": ["State A", "State B", "Patient", "Average", "Chance"], "range": [6, 6, 4, 6, 2]}, "legend": {"title": null, "orient": "bottom-right", "offset": 9, "symbolType": "stroke", "labelOffset": 8}},
         "strokeDash": {"datum": "Chance", "type": "nominal", "scale": {"domain": ["State A", "State B", "Patient", "Average", "Chance"], "range": [[1, 0], [1, 0], [1, 0], [1, 0], [6, 4]]}, "legend": {"title": null, "orient": "bottom-right", "offset": 9, "symbolType": "stroke", "labelOffset": 8}}}},
      {"data": {"name": "blMark"}, "mark": {"type": "point", "filled": true, "size": 110, "opacity": 1},
       "encoding": {"y": {"field": "y", "type": "quantitative", "scale": {"domain": [-0.01, 1.01], "nice": false, "zero": false}},
         "color": {"field": "s", "type": "nominal"},
         "shape": {"field": "type", "type": "nominal", "scale": {"domain": ["Grey matter only", "All iEEG"], "range": ["M0,-1L0.866,-0.5L0.866,0.5L0,1L-0.866,0.5L-0.866,-0.5Z", "M0,-1L0.2245,-0.309L0.951,-0.309L0.363,0.118L0.588,0.809L0,0.382L-0.588,0.809L-0.363,0.118L-0.951,-0.309L-0.2245,-0.309Z"]}, "legend": null}}},
      {"data": {"name": "blLab"}, "mark": {"type": "text", "fontSize": 12.5},
       "encoding": {"y": {"field": "y", "type": "quantitative", "scale": {"domain": [-0.01, 1.01], "nice": false, "zero": false}}, "text": {"field": "t"},
         "color": {"field": "s", "type": "nominal"}}}
    ]
  },
  {
    "width": 492, "height": 510,
    "encoding": {"x": {"field": "x", "type": "quantitative", "scale": {"domain": [-0.01, 1.01], "nice": false, "zero": false}, "axis": {"title": "AUC for classification using rate", "values": [0, 0.2, 0.4, 0.6, 0.8, 1], "format": ".1f"}}},
    "layer": [
      {"data": {"name": "brLeg"}, "mark": {"type": "point", "filled": true, "opacity": 0, "size": 1},
       "encoding": {"y": {"field": "y", "type": "quantitative", "scale": {"domain": [0, 1], "nice": false, "zero": false}, "axis": null},
         "shape": {"field": "cat", "type": "nominal", "scale": {"domain": ["State A", "State B", "Grey matter only", "All iEEG", "Chance"], "range": ["stroke", "stroke", "M0,-0.405L0.351,-0.2025L0.351,0.2025L0,0.405L-0.351,0.2025L-0.351,-0.2025Z", "M0,-0.35L0.0786,-0.1082L0.3329,-0.1082L0.1271,0.0413L0.2058,0.2832L0,0.1337L-0.2058,0.2832L-0.1271,0.0413L-0.3329,-0.1082L-0.0786,-0.1082Z", "stroke"]}, "legend": {"title": null, "orient": "top-left", "offset": 8, "labelOffset": 5}},
         "fill": {"field": "cat", "type": "nominal", "scale": {"domain": ["State A", "State B", "Grey matter only", "All iEEG", "Chance"], "range": ["#008000", "#0000ff", "#000000", "#000000", "transparent"]}, "legend": {"title": null, "orient": "top-left", "offset": 8, "labelOffset": 5}},
         "stroke": {"field": "cat", "type": "nominal", "scale": {"domain": ["State A", "State B", "Grey matter only", "All iEEG", "Chance"], "range": ["#008000", "#0000ff", "#000000", "#000000", "#000000"]}, "legend": {"title": null, "orient": "top-left", "offset": 8, "labelOffset": 5}},
         "strokeWidth": {"field": "cat", "type": "nominal", "scale": {"type": "ordinal", "domain": ["State A", "State B", "Grey matter only", "All iEEG", "Chance"], "range": [5, 5, 0.5, 0.5, 3.5]}, "legend": {"title": null, "orient": "top-left", "offset": 8, "labelOffset": 5}},
         "strokeDash": {"field": "cat", "type": "nominal", "scale": {"domain": ["State A", "State B", "Grey matter only", "All iEEG", "Chance"], "range": [[1, 0], [1, 0], [1, 0], [1, 0], [7, 4]]}, "legend": {"title": null, "orient": "top-left", "offset": 8, "labelOffset": 5}}}},
      {"data": {"name": "brA"}, "mark": {"type": "area", "color": "#008000", "opacity": 0.25, "interpolate": "monotone", "clip": true},
       "encoding": {"y": {"field": "y", "type": "quantitative", "scale": {"domain": [0, 1], "nice": false, "zero": false}, "axis": null}}},
      {"data": {"name": "brA"}, "mark": {"type": "line", "color": "#008000", "strokeWidth": 5, "interpolate": "monotone", "clip": true},
       "encoding": {"y": {"field": "y", "type": "quantitative", "scale": {"domain": [0, 1], "nice": false, "zero": false}, "axis": null}}},
      {"data": {"name": "brB"}, "mark": {"type": "area", "color": "#0000ff", "opacity": 0.25, "interpolate": "monotone", "clip": true},
       "encoding": {"y": {"field": "y", "type": "quantitative", "scale": {"domain": [0, 1], "nice": false, "zero": false}, "axis": null}}},
      {"data": {"name": "brB"}, "mark": {"type": "line", "color": "#0000ff", "strokeWidth": 5, "interpolate": "monotone", "clip": true},
       "encoding": {"y": {"field": "y", "type": "quantitative", "scale": {"domain": [0, 1], "nice": false, "zero": false}, "axis": null}}},
      {"data": {"name": "base"}, "mark": {"type": "line", "color": "#0000ff", "strokeWidth": 3, "clip": true},
       "encoding": {"y": {"field": "y", "type": "quantitative", "scale": {"domain": [0, 1], "nice": false, "zero": false}, "axis": null}}},
      {"data": {"name": "half"}, "mark": {"type": "rule", "color": "black", "strokeWidth": 3.5, "strokeDash": [12, 5]}, "encoding": {}},
      {"data": {"name": "brPts"}, "mark": {"type": "point", "filled": true, "size": 800, "opacity": 1},
       "encoding": {"y": {"field": "y", "type": "quantitative", "scale": {"domain": [0, 1], "nice": false, "zero": false}, "axis": null},
         "color": {"field": "s", "type": "nominal", "scale": {"domain": ["State A", "State B"], "range": ["#008000", "#0000ff"]}, "legend": null},
         "shape": {"field": "type", "type": "nominal"}}},
      {"data": {"name": "brPts"}, "mark": {"type": "text", "align": "right", "dx": -5, "dy": 9, "fontSize": 12.5},
       "encoding": {"y": {"field": "y", "type": "quantitative", "scale": {"domain": [0, 1], "nice": false, "zero": false}, "axis": null}, "text": {"field": "p"},
         "color": {"field": "s", "type": "nominal", "scale": {"domain": ["State A", "State B"], "range": ["#008000", "#0000ff"]}, "legend": null}}}
    ]
  },
  {
    "width": 492, "height": 72,
    "view": {"stroke": null},
    "data": {"name": "cap"},
    "encoding": {
      "x": {"field": "pos", "type": "quantitative", "scale": {"domain": [0, 1]}, "axis": null},
      "y": {"field": "line", "type": "ordinal", "axis": null},
      "text": {"field": "t"}
    },
    "layer": [
      {"transform": [{"filter": "datum.part === 'bold'"}], "mark": {"type": "text", "align": "left", "baseline": "middle", "fontSize": 21, "fontWeight": "bold", "dx": -64, "dy": -14, "color": "black"}},
      {"transform": [{"filter": "datum.part === 'first'"}], "mark": {"type": "text", "align": "left", "baseline": "middle", "fontSize": 21, "dx": 23, "dy": -14, "color": "black"}},
      {"transform": [{"filter": "datum.part === 'plain'"}], "mark": {"type": "text", "align": "left", "baseline": "middle", "fontSize": 21, "dx": -64, "dy": -14, "color": "black"}},
      {"transform": [{"filter": "datum.part === 'link'"}], "mark": {"type": "text", "align": "left", "baseline": "middle", "fontSize": 21, "dx": 377, "dy": -14, "color": "#3a6fc4"}},
      {"transform": [{"filter": "datum.part === 'rest'"}], "mark": {"type": "text", "align": "left", "baseline": "middle", "fontSize": 21, "dx": 393, "dy": -14, "color": "black"}}
    ]
  }
]
}
